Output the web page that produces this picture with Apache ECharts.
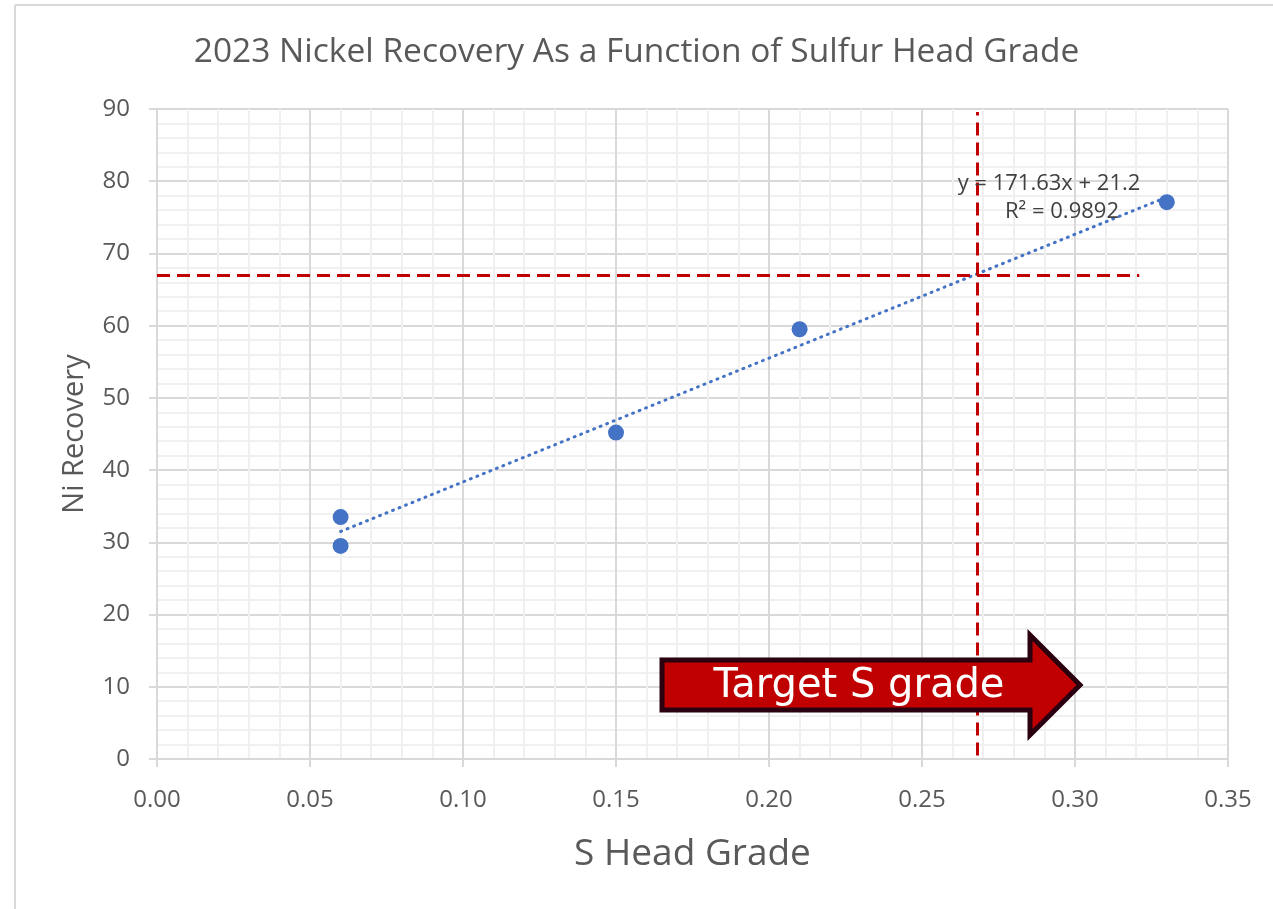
<!DOCTYPE html>
<html>
<head>
<meta charset="utf-8">
<script src="https://cdn.jsdelivr.net/npm/echarts@6/dist/echarts.min.js"></script>
<style>
  html, body { margin: 0; padding: 0; background: #fff; }
  #chart { width: 1273px; height: 909px; }
</style>
</head>
<body>
<div id="chart"></div>
<script>
// measured points (S head grade vs Ni recovery)
const sGrade = [0.06, 0.06, 0.15, 0.21, 0.33]
const niRecovery = [33.5, 29.5, 45.2, 59.5, 77.1]

// linear trendline endpoints
const trendX = [0.06, 0.33]
const trendY = [31.5, 77.8]

// target lines
const targetRecovery = 67
const targetGrade = 0.268
const hLineX = [0, 0.321]
const vLineY = [0.5, 89.6]

const eqText = 'y = 171.63x + 21.2'
const r2Text = 'R² = 0.9892'

const grey = '#595959'
const blue = '#4472C4'
const red = '#C00000'

const chart = echarts.init(document.getElementById('chart'))

const option = {
  animation: false,
  textStyle: { fontFamily: 'Open Sans' },
  title: {
    text: '2023 Nickel Recovery As a Function of Sulfur Head Grade',
    left: 'center',
    top: 30,
    textStyle: { fontSize: 33.5, fontWeight: 'normal', color: grey, fontFamily: 'Open Sans' }
  },
  grid: { left: 157, right: 45, top: 109, bottom: 150 },
  xAxis: {
    type: 'value',
    min: 0,
    max: 0.35,
    interval: 0.05,
    name: 'S Head Grade',
    nameLocation: 'middle',
    nameGap: 77,
    nameTextStyle: { fontSize: 37, color: grey },
    axisLine: { lineStyle: { color: '#d9d9d9', width: 2 } },
    axisTick: { show: true, length: 8, lineStyle: { color: '#d9d9d9', width: 2 } },
    axisLabel: { fontSize: 24, color: grey, margin: 29, formatter: v => v.toFixed(2) },
    splitLine: { lineStyle: { color: '#d9d9d9', width: 2 } },
    minorTick: { show: false, splitNumber: 5 },
    minorSplitLine: { show: true, lineStyle: { color: '#f0f0f0', width: 2 } }
  },
  yAxis: {
    type: 'value',
    min: 0,
    max: 90,
    interval: 10,
    name: 'Ni Recovery',
    nameLocation: 'middle',
    nameGap: 68,
    nameTextStyle: { fontSize: 29, color: grey },
    axisLine: { show: true, lineStyle: { color: '#d9d9d9', width: 2 } },
    axisTick: { show: true, length: 8, lineStyle: { color: '#d9d9d9', width: 2 } },
    axisLabel: { fontSize: 24, color: grey, margin: 27 },
    splitLine: { lineStyle: { color: '#d9d9d9', width: 2 } },
    minorTick: { show: false, splitNumber: 5 },
    minorSplitLine: { show: true, lineStyle: { color: '#f0f0f0', width: 2 } }
  },
  series: [
    {
      type: 'line',
      data: trendX.map((x, i) => [x, trendY[i]]),
      showSymbol: false,
      lineStyle: { color: blue, width: 3, type: [1, 6], cap: 'round' },
      z: 2,
      markLine: {
        silent: true,
        symbol: 'none',
        label: { show: false },
        lineStyle: { color: red, width: 3, type: [13, 7] },
        data: [
          [{ coord: [hLineX[0], targetRecovery] }, { coord: [hLineX[1], targetRecovery] }],
          [{ coord: [targetGrade, vLineY[0]] }, { coord: [targetGrade, vLineY[1]] }]
        ]
      }
    },
    {
      type: 'scatter',
      data: sGrade.map((x, i) => [x, niRecovery[i]]),
      symbolSize: 16,
      itemStyle: { color: blue, opacity: 1 },
      z: 3
    }
  ],
  graphic: [
    { type: 'line', shape: { x1: 15, y1: 5, x2: 1273, y2: 5 }, style: { stroke: '#d9d9d9', lineWidth: 2 } },
    { type: 'line', shape: { x1: 15, y1: 5, x2: 15, y2: 909 }, style: { stroke: '#d9d9d9', lineWidth: 2 } },
    {
      type: 'text', x: 1049, y: 184, z: 10,
      style: { text: eqText, fontSize: 22, fill: '#404040', align: 'center', verticalAlign: 'middle', fontFamily: 'Open Sans' }
    },
    {
      type: 'text', x: 1062, y: 212, z: 10,
      style: { text: r2Text, fontSize: 22, fill: '#404040', align: 'center', verticalAlign: 'middle', fontFamily: 'Open Sans' }
    },
    {
      type: 'polygon', z: 10,
      shape: { points: [[662, 660], [1030, 660], [1030, 635], [1080, 685], [1030, 735], [1030, 710], [662, 710]] },
      style: { fill: red, stroke: '#2b0010', lineWidth: 5, lineJoin: 'miter' }
    },
    {
      type: 'text', x: 859, y: 687, z: 11,
      style: { text: 'Target S grade', fontSize: 40, fill: '#fff', align: 'center', verticalAlign: 'middle', fontFamily: 'DejaVu Sans' }
    }
  ]
}

chart.setOption(option)
</script>
</body>
</html>
